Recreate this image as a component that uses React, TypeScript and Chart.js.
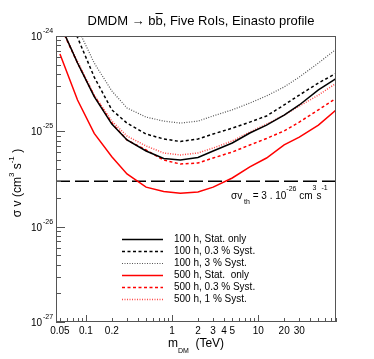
import React, { useEffect, useRef } from 'react';
import { Chart, registerables } from 'chart.js';

Chart.register(...registerables);

// ---- data ----
const masses = [0.05, 0.08, 0.125, 0.2, 0.3, 0.5, 0.8, 1.25, 2, 3, 5, 8, 12.5, 20, 30, 50, 80];
const stat100 = [1.34e-24, 5.21e-25, 2.31e-25, 1.19e-25, 8.11e-26, 6.22e-26, 5.19e-26, 5.0e-26, 5.31e-26, 6.22e-26, 7.55e-26, 9.6e-26, 1.16e-25, 1.48e-25, 1.89e-25, 2.72e-25, 3.58e-25];
const syst03of100 = [2.7e-24, 9.65e-25, 3.71e-25, 1.68e-25, 1.22e-25, 9.37e-26, 8.31e-26, 7.82e-26, 8.31e-26, 9.37e-26, 1.08e-25, 1.25e-25, 1.45e-25, 1.89e-25, 2.4e-25, 3.21e-25, 4.06e-25];
const syst3of100 = [2.95e-24, 1.21e-24, 5.21e-25, 2.65e-25, 1.76e-25, 1.41e-25, 1.28e-25, 1.22e-25, 1.28e-25, 1.45e-25, 1.68e-25, 1.98e-25, 2.35e-25, 2.92e-25, 3.71e-25, 5.21e-25, 7.25e-25];
const stat500 = [6.47e-25, 2.13e-25, 9.5e-26, 5.42e-26, 3.57e-26, 2.6e-26, 2.34e-26, 2.24e-26, 2.31e-26, 2.6e-26, 3.24e-26, 4.23e-26, 5.25e-26, 7.2e-26, 8.7e-26, 1.16e-25, 1.67e-25];
const syst03of500 = [1.3e-24, 5.21e-25, 2.35e-25, 1.22e-25, 8.11e-26, 6.37e-26, 5.0e-26, 4.54e-26, 4.65e-26, 5.25e-26, 6.07e-26, 7.19e-26, 8.42e-26, 1.01e-25, 1.25e-25, 1.68e-25, 2.22e-25];
const syst1of500 = [1.3e-24, 5.4e-25, 2.4e-25, 1.28e-25, 8.93e-26, 7.02e-26, 5.93e-26, 5.65e-26, 5.93e-26, 6.68e-26, 7.92e-26, 9.84e-26, 1.19e-25, 1.48e-25, 1.84e-25, 2.4e-25, 3.19e-25];
const seriesLabels = [
  '100 h, Stat. only',
  '100 h, 0.3 % Syst.',
  '100 h, 3 % Syst.',
  '500 h, Stat.  only',
  '500 h, 0.3 % Syst.',
  '500 h, 1 % Syst.',
];
const thresholdValue = 3e-26;
const xRange = [0.045, 80];
const yRange = [1e-27, 1e-24];
const xTickLabels = [0.05, 0.1, 0.2, 1, 2, 3, 4, 5, 10, 20, 30];
const yDecades = [-27, -26, -25, -24];

const FONT = '"Liberation Sans", Arial, Helvetica, sans-serif';

function drawRuns(ctx: CanvasRenderingContext2D, x: number, y: number, runs: { t: string; size: number; dy: number }[], align: 'left' | 'center') {
  let total = 0;
  const widths = runs.map((r) => {
    ctx.font = `${r.size}px ${FONT}`;
    const w = ctx.measureText(r.t).width;
    total += w;
    return w;
  });
  let cx = align === 'center' ? x - total / 2 : x;
  ctx.textAlign = 'left';
  ctx.textBaseline = 'alphabetic';
  runs.forEach((r, i) => {
    ctx.font = `${r.size}px ${FONT}`;
    ctx.fillText(r.t, cx, y + r.dy);
    cx += widths[i];
  });
  return cx;
}

const rootPlugin = {
  id: 'rootStyle',
  afterDraw(chart: any) {
    const ctx: CanvasRenderingContext2D = chart.ctx;
    const { left, right, top, bottom } = chart.chartArea;
    const xs = chart.scales.x;
    const ys = chart.scales.y;
    ctx.save();
    // frame
    ctx.strokeStyle = '#555';
    ctx.lineWidth = 1;
    ctx.setLineDash([]);
    ctx.strokeRect(left + 0.5, top + 0.5, right - left - 1, bottom - top - 1);

    // y ticks
    ctx.beginPath();
    for (const d of yDecades) {
      for (let k = 1; k <= 9; k++) {
        const v = k * Math.pow(10, d);
        if (v < yRange[0] || v > yRange[1]) continue;
        const py = Math.round(ys.getPixelForValue(v)) + 0.5;
        const len = k === 1 ? 9 : 5;
        ctx.moveTo(left, py);
        ctx.lineTo(left + len, py);
      }
    }
    // x ticks
    for (let d = -2; d <= 1; d++) {
      for (let k = 1; k <= 9; k++) {
        const v = k * Math.pow(10, d);
        if (v < xRange[0] || v > xRange[1]) continue;
        const px = Math.round(xs.getPixelForValue(v)) + 0.5;
        const len = k === 1 ? 7 : 4;
        ctx.moveTo(px, bottom);
        ctx.lineTo(px, bottom - len);
      }
    }
    ctx.stroke();

    ctx.fillStyle = '#000';
    // y tick labels
    for (const d of yDecades) {
      const py = ys.getPixelForValue(Math.pow(10, d));
      ctx.font = `10px ${FONT}`;
      ctx.textAlign = 'right';
      ctx.textBaseline = 'alphabetic';
      ctx.fillText('10', 42, py + 4);
      ctx.font = `7px ${FONT}`;
      ctx.textAlign = 'left';
      ctx.fillText(String(d), 43, py - 3);
    }
    // x tick labels
    ctx.font = `10px ${FONT}`;
    ctx.textAlign = 'center';
    for (const v of xTickLabels) {
      const px = xs.getPixelForValue(v);
      ctx.fillText(String(v), px, bottom + 12);
    }

    // x axis title
    drawRuns(ctx, 196, 347, [
      { t: 'm', size: 12, dy: 0 },
      { t: 'DM', size: 7, dy: 6 },
      { t: '  (TeV)', size: 12, dy: 0 },
    ], 'center');

    // y axis title
    ctx.save();
    ctx.translate(21, 183);
    ctx.rotate(-Math.PI / 2);
    drawRuns(ctx, 0, 0, [
      { t: 'σ v (cm', size: 12, dy: 0 },
      { t: '3', size: 8, dy: -7 },
      { t: ' s', size: 12, dy: 0 },
      { t: '-1', size: 8, dy: -7 },
      { t: ' )', size: 12, dy: 0 },
    ], 'center');
    ctx.restore();

    // title with overlined b
    ctx.font = `13px ${FONT}`;
    const t1 = 'DMDM → b';
    const t2 = 'b';
    const t3 = ', Five RoIs, Einasto profile';
    const w1 = ctx.measureText(t1).width;
    const w2 = ctx.measureText(t2).width;
    const w3 = ctx.measureText(t3).width;
    const tx = 201 - (w1 + w2 + w3) / 2;
    ctx.textAlign = 'left';
    ctx.fillText(t1, tx, 25);
    ctx.fillText(t2, tx + w1, 25);
    ctx.fillText(t3, tx + w1 + w2, 25);
    ctx.beginPath();
    ctx.strokeStyle = '#000';
    ctx.lineWidth = 1;
    ctx.moveTo(tx + w1, 13.5);
    ctx.lineTo(tx + w1 + w2, 13.5);
    ctx.stroke();

    // threshold annotation
    drawRuns(ctx, 231, 198.5, [
      { t: 'σv', size: 10, dy: 0 },
      { t: ' th', size: 7, dy: 5 },
      { t: ' = 3 . 10', size: 10, dy: 0 },
      { t: '-26', size: 7, dy: -8 },
      { t: ' cm', size: 10, dy: 0 },
      { t: '3', size: 7, dy: -9 },
      { t: 's', size: 10, dy: 0 },
      { t: '-1', size: 7, dy: -9 },
    ], 'left');

    // legend
    const dsets = chart.data.datasets.filter((d: any) => d.label);
    dsets.forEach((ds: any, i: number) => {
      const y = 239 + i * 11.9;
      ctx.beginPath();
      ctx.strokeStyle = ds.borderColor;
      ctx.lineWidth = ds.borderWidth;
      ctx.setLineDash(ds.borderDash || []);
      ctx.moveTo(122, Math.round(y) + 0.5);
      ctx.lineTo(163, Math.round(y) + 0.5);
      ctx.stroke();
      ctx.setLineDash([]);
      ctx.fillStyle = '#000';
      ctx.font = `10px ${FONT}`;
      ctx.textAlign = 'left';
      ctx.textBaseline = 'middle';
      ctx.fillText(ds.label, 174, y + 0.5);
    });
    ctx.restore();
  },
};

function series(values: number[]) {
  return masses.map((m, i) => ({ x: m, y: values[i] }));
}

export default function App() {
  const ref = useRef<HTMLCanvasElement | null>(null);
  useEffect(() => {
    if (!ref.current) return;
    const base = { pointRadius: 0, tension: 0, fill: false };
    const chart = new Chart(ref.current, {
      type: 'line',
      data: {
        datasets: [
          { ...base, label: seriesLabels[0], data: series(stat100), borderColor: '#000', borderWidth: 1.5, borderDash: [] },
          { ...base, label: seriesLabels[1], data: series(syst03of100), borderColor: '#000', borderWidth: 1.5, borderDash: [3, 2.5] },
          { ...base, label: seriesLabels[2], data: series(syst3of100), borderColor: '#555', borderWidth: 1.2, borderDash: [1, 1.5] },
          { ...base, label: seriesLabels[3], data: series(stat500), borderColor: '#ff0000', borderWidth: 1.5, borderDash: [] },
          { ...base, label: seriesLabels[4], data: series(syst03of500), borderColor: '#ff0000', borderWidth: 1.5, borderDash: [3, 2.5] },
          { ...base, label: seriesLabels[5], data: series(syst1of500), borderColor: '#ff4a4a', borderWidth: 1.5, borderDash: [1, 1.5] },
          {
            ...base,
            label: '',
            data: [{ x: xRange[0], y: thresholdValue }, { x: xRange[1], y: thresholdValue }],
            borderColor: '#000',
            borderWidth: 1.5,
            borderDash: [14, 5],
          },
        ] as any,
      },
      options: {
        animation: false,
        responsive: false,
        maintainAspectRatio: false,
        layout: { padding: { left: 56, top: 36, right: 38, bottom: 37 } },
        plugins: { legend: { display: false }, title: { display: false }, tooltip: { enabled: false } },
        scales: {
          x: { type: 'logarithmic', min: xRange[0], max: xRange[1], display: false },
          y: { type: 'logarithmic', min: yRange[0], max: yRange[1], display: false },
        },
      } as any,
      plugins: [rootPlugin],
    });
    return () => chart.destroy();
  }, []);
  return (
    <div style={{ position: 'absolute', left: 0, top: 0, width: 374, height: 359, background: '#fff' }}>
      <canvas ref={ref} width={374} height={359} style={{ width: 374, height: 359 }} />
    </div>
  );
}
